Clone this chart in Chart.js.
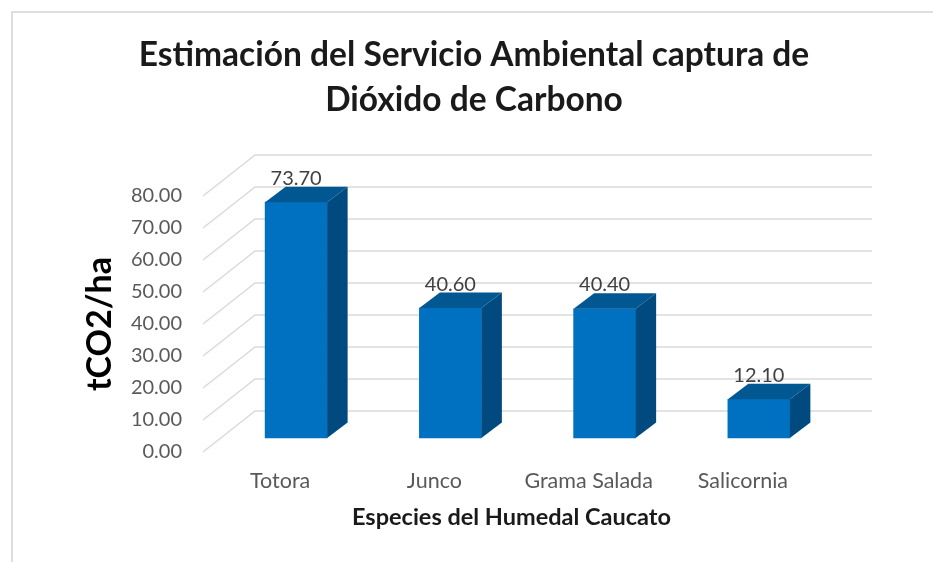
<!DOCTYPE html>
<html>
<head>
<meta charset="utf-8">
<style>
    html, body { margin: 0; background: #fff; }
    #wrap { position: relative; width: 933px; height: 562px; overflow: hidden; }
    #frame { position: absolute; left: 11px; top: 11px; width: 1000px; height: 600px; border: 2px solid #dedede; box-sizing: border-box; }
    canvas { position: absolute; left: 0; top: 0; filter: blur(0.5px); }
</style>
<script src="https://cdn.jsdelivr.net/npm/chart.js@4"></script>
</head>
<body>
<div id="wrap">
    <div id="frame"></div>
    <canvas id="myChart" width="933" height="562"></canvas>
</div>
<script>
const titleLines = ['Estimación del Servicio Ambiental captura de', 'Dióxido de Carbono'];
const yAxisTitle = 'tCO2/ha';
const xAxisTitle = 'Especies del Humedal Caucato';
const categories = ['Totora', 'Junco', 'Grama Salada', 'Salicornia'];
const captureValues = [73.7, 40.6, 40.4, 12.1];
const yTickValues = [0, 10, 20, 30, 40, 50, 60, 70, 80];

// fake 3D: back wall offset, bar position inside the box, bar depth
const wall = { dx: 52, dy: -41 };
const barShift = { dx: 16, dy: -14 };
const barDepth = { dx: 20.5, dy: -15.5 };

const faces = { front: '#0070c0', side: '#004a80', top: '#005792' };
const labelColor = '#595959';

function poly(ctx, pts, color) {
    ctx.fillStyle = color;
    ctx.beginPath();
    pts.forEach((p, i) => i ? ctx.lineTo(p[0], p[1]) : ctx.moveTo(p[0], p[1]));
    ctx.closePath();
    ctx.fill();
}

const depthPlugin = {
    id: 'depth',
    beforeDatasetsDraw(chart) {
        const { ctx, chartArea, scales } = chart;
        ctx.save();
        ctx.strokeStyle = '#dadada';
        ctx.lineWidth = 1.5;
        yTickValues.forEach(v => {
            const y = scales.y.getPixelForValue(v);
            ctx.beginPath();
            ctx.moveTo(chartArea.left, y);
            ctx.lineTo(chartArea.left + wall.dx, y + wall.dy);
            ctx.lineTo(chartArea.right + wall.dx, y + wall.dy);
            ctx.stroke();
        });
        ctx.restore();
        // front faces come from the library, just moved into the box
        ctx.save();
        ctx.translate(barShift.dx, barShift.dy);
    },
    afterDatasetsDraw(chart) {
        const { ctx } = chart;
        const d = barDepth;
        chart.getDatasetMeta(0).data.forEach(bar => {
            const l = bar.x - bar.width / 2;
            const r = bar.x + bar.width / 2;
            poly(ctx, [[r, bar.y], [r + d.dx, bar.y + d.dy], [r + d.dx, bar.base + d.dy], [r, bar.base]], faces.side);
            poly(ctx, [[l, bar.y], [l + d.dx, bar.y + d.dy], [r + d.dx, bar.y + d.dy], [r, bar.y]], faces.top);
        });
        ctx.restore();

        ctx.save();
        ctx.font = '20px Lato';
        ctx.fillStyle = '#404040';
        ctx.textAlign = 'center';
        ctx.textBaseline = 'middle';
        chart.getDatasetMeta(0).data.forEach((bar, i) => {
            ctx.fillText(captureValues[i].toFixed(2), bar.x + barShift.dx, bar.y + barShift.dy - 24);
        });
        ctx.restore();
    }
};

const myChart = new Chart(document.getElementById('myChart').getContext('2d'), {
    type: 'bar',
    data: {
        labels: categories,
        datasets: [{
            data: captureValues,
            backgroundColor: faces.front,
            barThickness: 62,
            clip: false
        }]
    },
    plugins: [depthPlugin],
    options: {
        responsive: false,
        animation: false,
        layout: { padding: { left: 128, right: 113, top: 0, bottom: 0 } },
        plugins: {
            legend: { display: false },
            tooltip: { enabled: false },
            title: {
                display: true,
                text: titleLines,
                color: '#1a1a1a',
                font: { family: 'Lato', size: 33.5, weight: 'bold', lineHeight: 1.343 },
                padding: { top: 33, bottom: 73 }
            }
        },
        scales: {
            x: {
                grid: { display: false },
                border: { display: false },
                ticks: { color: labelColor, font: { family: 'Lato', size: 21.5 }, padding: 8, maxRotation: 0, autoSkip: false },
                title: {
                    display: true,
                    text: xAxisTitle,
                    color: '#1a1a1a',
                    font: { family: 'Lato', size: 23.5, weight: 'bold' },
                    padding: { top: 0, bottom: 30 }
                },
                afterFit(scale) { scale.height = 110; }
            },
            y: {
                min: 0,
                max: 80,
                grid: { display: false },
                border: { display: false },
                ticks: {
                    stepSize: 10,
                    color: labelColor,
                    font: { family: 'Lato', size: 20 },
                    padding: 13,
                    callback: v => v.toFixed(2)
                },
                title: {
                    display: true,
                    text: yAxisTitle,
                    color: '#000',
                    font: { family: 'Lato', size: 34, weight: 'bold' },
                    padding: { top: -48, bottom: 0 }
                },
                afterFit(scale) { scale.width = 75; }
            }
        }
    }
});
</script>
</body>
</html>
